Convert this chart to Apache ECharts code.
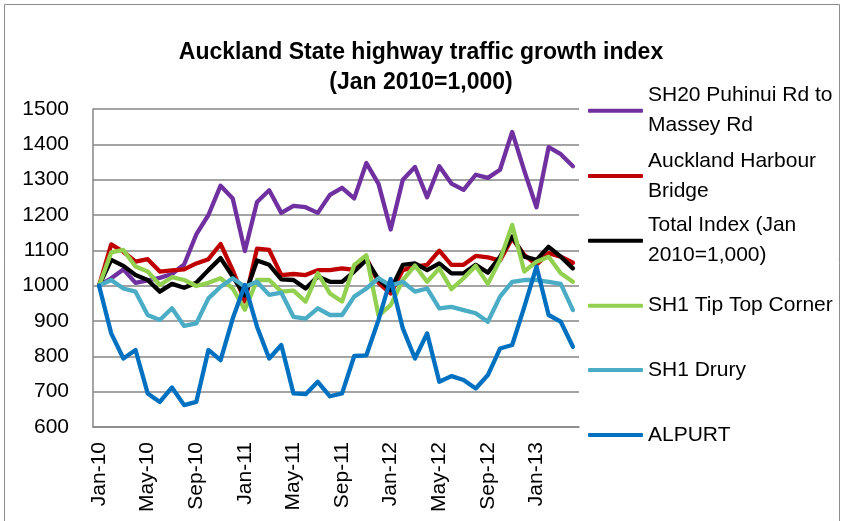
<!DOCTYPE html>
<html>
<head>
<meta charset="utf-8">
<script src="https://cdn.jsdelivr.net/npm/echarts@6/dist/echarts.min.js"></script>
<style>
html,body{margin:0;padding:0;background:#fff;}
#chart{width:842px;height:521px;}
</style>
</head>
<body>
<div id="chart"></div>
<script>
const months = ['Jan-10','Feb-10','Mar-10','Apr-10','May-10','Jun-10','Jul-10','Aug-10','Sep-10','Oct-10','Nov-10','Dec-10',
  'Jan-11','Feb-11','Mar-11','Apr-11','May-11','Jun-11','Jul-11','Aug-11','Sep-11','Oct-11','Nov-11','Dec-11',
  'Jan-12','Feb-12','Mar-12','Apr-12','May-12','Jun-12','Jul-12','Aug-12','Sep-12','Oct-12','Nov-12','Dec-12',
  'Jan-13','Feb-13','Mar-13','Apr-13'];
const seriesNames = ['SH20 Puhinui Rd to\nMassey Rd','Auckland Harbour\nBridge','Total Index (Jan\n2010=1,000)','SH1 Tip Top Corner','SH1 Drury','ALPURT'];
const sh20 = [1000,1021,1046,1008,1015,1022,1033,1060,1145,1200,1283,1247,1098,1237,1270,1206,1226,1222,1206,1257,1277,1247,1347,1288,1159,1300,1336,1250,1338,1289,1271,1314,1305,1328,1435,1325,1222,1392,1372,1338];
const harbourBridge = [1000,1117,1096,1068,1075,1040,1043,1046,1063,1075,1118,1044,955,1105,1101,1030,1033,1030,1044,1044,1049,1045,1078,1008,978,1044,1054,1059,1099,1059,1059,1084,1080,1071,1134,1087,1059,1092,1082,1065];
const totalIndex = [1000,1073,1056,1030,1016,983,1005,994,1008,1044,1078,1026,972,1071,1059,1018,1016,992,1026,1011,1011,1040,1073,1018,988,1059,1063,1044,1063,1035,1035,1059,1037,1082,1139,1082,1073,1110,1082,1049];
const tipTop = [1000,1094,1101,1054,1040,1002,1024,1016,999,1008,1021,992,932,1016,1016,983,986,955,1035,978,955,1059,1086,915,945,1016,1057,1011,1049,990,1021,1056,1005,1073,1172,1040,1068,1082,1035,1011];
const drury = [1000,1016,992,983,917,903,936,886,893,964,997,1021,997,1011,974,980,912,907,936,917,917,969,992,1021,1000,1011,983,992,936,940,931,922,898,969,1011,1016,1016,1011,1005,931];
const alpurt = [1000,865,794,818,695,671,712,662,671,818,789,907,1002,884,794,832,695,693,728,687,695,801,803,903,1019,879,794,865,728,744,733,709,747,822,832,940,1054,917,898,827];
const yTicks = {min: 600, max: 1500, interval: 100};
const colors = ['#7030A0','#C00000','#000000','#92D050','#4BACC6','#0070C0'];
const allData = [sh20, harbourBridge, totalIndex, tipTop, drury, alpurt];

const FONT = 'Liberation Sans';
const chart = echarts.init(document.getElementById('chart'), null, {renderer: 'canvas'});

const legendCenters = [110.7, 176, 240.7, 305.7, 370, 435];
const legends = seriesNames.map((name, i) => {
  const twoLine = name.indexOf('\n') >= 0;
  return {
    data: [name],
    orient: 'vertical',
    left: 588,
    top: legendCenters[i] - (twoLine ? 45 : 15),
    padding: 0,
    itemGap: 0,
    itemWidth: 55,
    itemHeight: 4,
    icon: 'roundRect',
    selectedMode: false,
    textStyle: {
      fontFamily: FONT, fontSize: 21, color: '#000', lineHeight: 30,
      padding: twoLine ? [30, 0, 0, 0] : 0,
      backgroundColor: 'rgba(255,255,255,0)'
    }
  };
});

const option = {
  backgroundColor: '#fff',
  animation: false,
  title: {
    text: 'Auckland State highway traffic growth index\n(Jan 2010=1,000)',
    left: 'center',
    top: 38,
    padding: 0,
    textStyle: {fontFamily: FONT, fontSize: 23, fontWeight: 'bold', color: '#000', lineHeight: 30, align: 'center'}
  },
  graphic: [{
    type: 'rect', silent: true, z: -10,
    shape: {x: 4.5, y: 4.5, width: 835, height: 540},
    style: {fill: 'none', stroke: '#8c8c8c', lineWidth: 1}
  }],
  legend: legends,
  grid: {left: 93, right: 263, top: 109, bottom: 94},
  xAxis: {
    type: 'category',
    data: months,
    boundaryGap: true,
    axisLine: {show: true, lineStyle: {color: '#868686', width: 1.5}},
    axisTick: {show: false},
    axisLabel: {interval: 3, rotate: 90, margin: 15, fontFamily: FONT, fontSize: 21, color: '#000'},
    splitLine: {show: false}
  },
  yAxis: {
    type: 'value',
    min: yTicks.min, max: yTicks.max, interval: yTicks.interval,
    axisLine: {show: true, lineStyle: {color: '#868686', width: 1.5}},
    axisTick: {show: false},
    axisLabel: {margin: 24, fontFamily: FONT, fontSize: 21, color: '#000', formatter: v => String(v)},
    splitLine: {show: true, lineStyle: {color: '#868686', width: 1.5}}
  },
  series: seriesNames.map((name, i) => ({
    name: name,
    type: 'line',
    data: allData[i],
    symbol: 'none',
    showSymbol: false,
    smooth: false,
    color: colors[i],
    lineStyle: {color: colors[i], width: 4.3, cap: 'round', join: 'round'},
    itemStyle: {color: colors[i]},
    z: 2 + i
  }))
};
chart.setOption(option);
</script>
</body>
</html>
